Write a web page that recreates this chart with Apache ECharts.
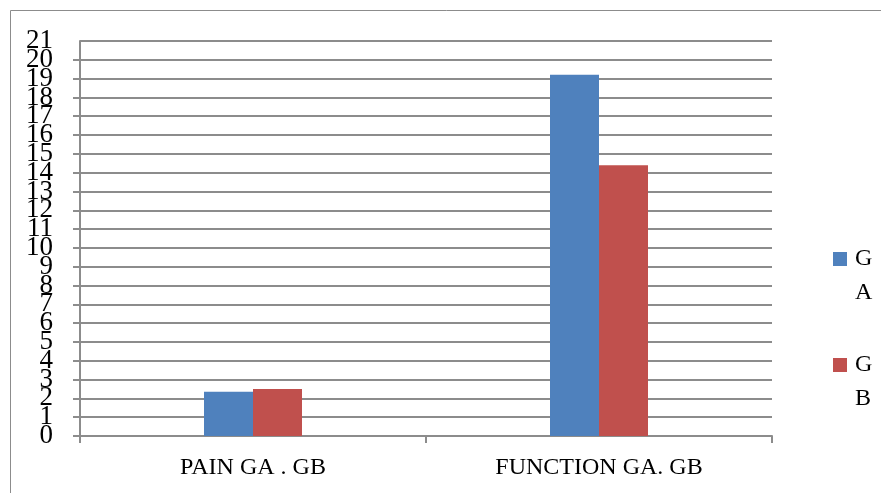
<!DOCTYPE html>
<html><head><meta charset="utf-8">
<script src="https://cdn.jsdelivr.net/npm/echarts@6/dist/echarts.min.js"></script>
<style>html,body{margin:0;padding:0;background:#fff}#c{width:881px;height:493px}</style>
</head><body><div id="c"></div>
<script>
const categories = ['PAIN GA . GB', 'FUNCTION GA. GB'];
const seriesNames = ['GA', 'GB'];
const valuesGA = [2.35, 19.2];
const valuesGB = [2.5, 14.4];
const yMin = 0, yMax = 21, yStep = 1;

const chart = echarts.init(document.getElementById('c'), null, {renderer: 'canvas'});
const serif = 'Liberation Serif';
const L = 34;
const labelBase = {fontFamily: serif, fontSize: 27, lineHeight: 16, color: '#000', margin: 27, hideOverlap: false};
chart.setOption({
  animation: false,
  backgroundColor: '#fff',
  graphic: [{type: 'rect', shape: {x: 10.5, y: 10.5, width: 880, height: 490}, style: {fill: 'none', stroke: '#8c8c8c', lineWidth: 1}}],
  grid: {left: 80, right: 109, top: 41, bottom: 57},
  legend: {
    orient: 'vertical', left: 833, top: 208, padding: 0, itemWidth: 14, itemHeight: 14, itemGap: 4,
    icon: 'rect',
    formatter: n => ' \n' + n.charAt(0) + '\n' + n.charAt(1),
    textStyle: {fontFamily: serif, fontSize: 24, color: '#000', lineHeight: L, padding: [0, 0, 0, 3]}
  },
  xAxis: {
    type: 'category', data: categories,
    axisLine: {lineStyle: {color: '#8c8c8c', width: 2}},
    axisTick: {show: true, length: 7, lineStyle: {color: '#8c8c8c', width: 2}},
    axisLabel: {fontFamily: serif, fontSize: 24, color: '#000', margin: 20}
  },
  yAxis: [{
    type: 'value', min: yMin, max: yMax, interval: yStep,
    axisLine: {show: true, lineStyle: {color: '#8c8c8c', width: 2}},
    axisTick: {show: true, length: 7, lineStyle: {color: '#8c8c8c', width: 2}},
    splitLine: {lineStyle: {color: '#8c8c8c', width: 2}},
    axisLabel: Object.assign({}, labelBase, {showMinLabel: true, showMaxLabel: false,
      formatter: v => (Math.round(v) % 2 === 0 ? String(v) : '')})
  }, {
    type: 'value', position: 'left', offset: 0, min: yMin, max: yMax, interval: yStep,
    axisLine: {show: false}, axisTick: {show: false}, splitLine: {show: false},
    axisLabel: Object.assign({}, labelBase, {showMinLabel: false, showMaxLabel: true,
      formatter: v => (Math.round(v) % 2 === 1 ? String(v) : '')})
  }],
  series: [
    {name: seriesNames[0], type: 'bar', data: valuesGA, barWidth: 49, barGap: '0%', itemStyle: {color: '#4f81bd'}},
    {name: seriesNames[1], type: 'bar', data: valuesGB, barWidth: 49, barGap: '0%', itemStyle: {color: '#c0504d'}}
  ]
});
</script></body></html>
